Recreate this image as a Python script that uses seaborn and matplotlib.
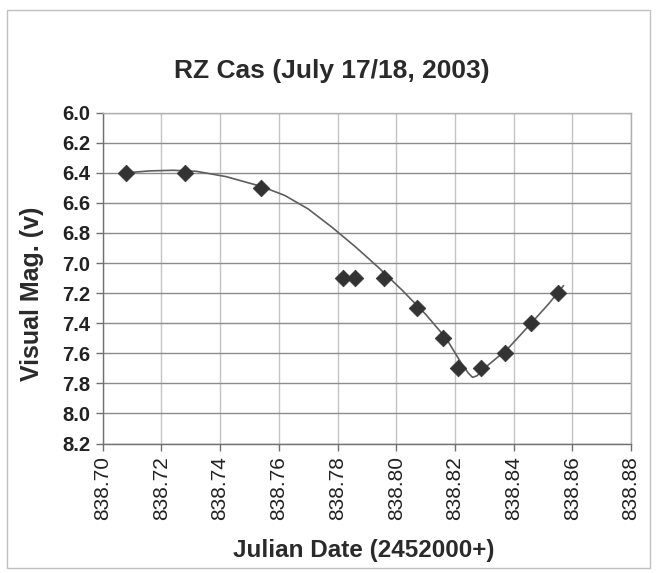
import matplotlib
matplotlib.use("Agg")
import matplotlib.pyplot as plt
from matplotlib.patches import Rectangle
import seaborn as sns
import pandas as pd

# ---- data ----
jd = [838.708, 838.728, 838.754, 838.782, 838.786, 838.796, 838.807,
      838.816, 838.821, 838.829, 838.837, 838.846, 838.855]
mag = [6.4, 6.4, 6.5, 7.1, 7.1, 7.1, 7.3, 7.5, 7.7, 7.7, 7.6, 7.4, 7.2]

# smooth trend curve
curve_jd = [838.708, 838.716, 838.724, 838.732, 838.742, 838.754, 838.762,
            838.770, 838.778, 838.786, 838.794, 838.802, 838.810, 838.817,
            838.822, 838.8245, 838.826, 838.8275, 838.830, 838.838, 838.846,
            838.852, 838.857]
curve_mag = [6.40, 6.387, 6.383, 6.39, 6.425, 6.49, 6.55, 6.64, 6.76, 6.89,
             7.03, 7.18, 7.34, 7.50, 7.66, 7.73, 7.76, 7.75, 7.70, 7.57, 7.40,
             7.27, 7.15]

x_ticks = [838.70, 838.72, 838.74, 838.76, 838.78, 838.80, 838.82, 838.84, 838.86, 838.88]
y_ticks = [6.0, 6.2, 6.4, 6.6, 6.8, 7.0, 7.2, 7.4, 7.6, 7.8, 8.0, 8.2]

title = "RZ Cas (July 17/18, 2003)"
xlabel = "Julian Date (2452000+)"
ylabel = "Visual Mag. (v)"

sns.set_theme(style="white")
plt.rcParams["font.family"] = ["Liberation Sans", "DejaVu Sans"]

W, H = 660, 573
fig = plt.figure(figsize=(W / 100, H / 100), dpi=100)
fig.patch.set_facecolor("white")

L, R, T, B = 102.7, 631.0, 112.7, 443.5
ax = fig.add_axes([L / W, 1 - B / H, (R - L) / W, (B - T) / H])
ax.set_facecolor("white")

obs = pd.DataFrame({"jd": jd, "mag": mag})
fit = pd.DataFrame({"jd": curve_jd, "mag": curve_mag})

sns.lineplot(data=fit, x="jd", y="mag", ax=ax, sort=False, estimator=None,
             color="#5e5e5e", linewidth=1.2, zorder=3)
sns.scatterplot(data=obs, x="jd", y="mag", ax=ax, marker="D", s=72,
                color="#333333", edgecolor="#333333", linewidth=0.5, zorder=4)

ax.set_xlim(x_ticks[0], x_ticks[-1])
ax.set_ylim(y_ticks[-1], y_ticks[0])
ax.set_xticks(x_ticks)
ax.set_yticks(y_ticks)
ax.set_xticklabels([f"{v:.2f}" for v in x_ticks], rotation=90, fontsize=15)
ax.set_yticklabels([f"{v:.1f}" for v in y_ticks], fontsize=14.5, fontweight="bold")

ax.yaxis.grid(True, color="#8c8c8c", linewidth=1.0)
ax.xaxis.grid(True, color="#c4c4c4", linewidth=1.0)
ax.set_axisbelow(True)

for side in ["top", "right"]:
    ax.spines[side].set_color("#b0b0b0")
    ax.spines[side].set_linewidth(1.0)
for side in ["left", "bottom"]:
    ax.spines[side].set_color("#707070")
    ax.spines[side].set_linewidth(1.0)

ax.tick_params(axis="both", direction="out", length=5, width=1.0, color="#707070",
               labelcolor="#222222", pad=4)
ax.tick_params(axis="x", bottom=True, pad=4)
ax.tick_params(axis="y", left=True)

ax.set_xlabel(xlabel, fontsize=17.5, fontweight="bold", color="#2a2a2a")
ax.set_ylabel(ylabel, fontsize=18, fontweight="bold", color="#2a2a2a")
ax.xaxis.set_label_coords((364 - L) / (R - L), (B - 550) / (B - T))
ax.xaxis.label.set_va("center")
ax.yaxis.set_label_coords((31.7 - L) / (R - L), (B - 293.5) / (B - T))
ax.yaxis.label.set_va("center")

fig.text(332 / W, 1 - 71 / H, title, ha="center", va="center",
         fontsize=19, fontweight="bold", color="#2a2a2a")

fig.patches.append(Rectangle((7 / W, 1 - 568 / H), (650 - 7) / W, (568 - 10) / H,
                             transform=fig.transFigure, fill=False,
                             edgecolor="#c0c0c0", linewidth=1.0))

fig.savefig("out.png", dpi=100)
